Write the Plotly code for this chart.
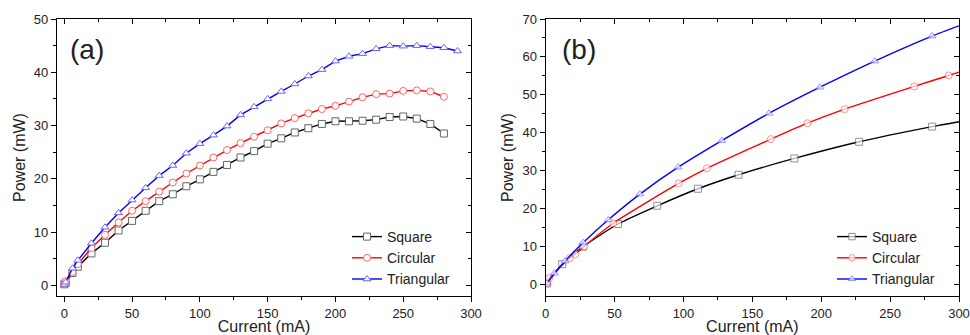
import plotly.graph_objects as go

# ---------------- data: panel (a) ----------------
a_current = [0, 1, 6, 10, 20, 30, 40, 50, 60, 70, 80, 90, 100, 110, 120, 130, 140,
             150, 160, 170, 180, 190, 200, 210, 220, 230, 240, 250, 260, 270, 280]
a_square = [0.2, 0.5, 2.3, 3.5, 6.0, 8.0, 10.3, 12.1, 14.0, 15.8, 17.1, 18.6, 19.9, 21.3,
            22.6, 24.0, 25.2, 26.6, 27.6, 28.7, 29.5, 30.3, 30.8, 30.8, 30.9, 31.1, 31.6,
            31.7, 31.3, 30.3, 28.5]
a_circular = [0.3, 0.8, 2.5, 4.0, 7.0, 9.5, 11.8, 14.0, 15.8, 17.6, 19.3, 21.0, 22.5, 24.0,
              25.4, 26.7, 27.9, 29.1, 30.4, 31.4, 32.3, 33.1, 33.7, 34.5, 35.3, 35.9, 36.0,
              36.5, 36.6, 36.4, 35.4]
a_tri_current = a_current + [290]
a_triangular = [0.2, 0.6, 3.2, 4.7, 7.9, 10.9, 13.6, 16.0, 18.3, 20.6, 22.5, 24.8, 26.6,
                28.2, 29.9, 32.0, 33.5, 35.0, 36.4, 37.8, 39.3, 40.5, 42.1, 43.0, 43.5,
                44.4, 45.0, 44.9, 45.0, 44.8, 44.6, 44.0]

# ---------------- data: panel (b) ----------------
# last point of each series is the curve end (no marker drawn there)
b_sq_current = [1, 12, 27, 52.5, 81, 110.5, 140, 180.5, 227.5, 280.5, 300]
b_square = [0.2, 5.3, 9.9, 15.9, 20.7, 25.2, 28.9, 33.2, 37.6, 41.6, 42.9]
b_ci_current = [1, 2.5, 17.5, 21.5, 28, 49, 96.5, 117, 163.5, 190, 217, 267.5, 292.5, 300]
b_circular = [0.3, 1.6, 6.9, 7.9, 10.0, 16.1, 26.6, 30.6, 38.3, 42.5, 46.2, 52.2, 55.1, 56.0]
b_tr_current = [1, 6.3, 14, 27.3, 45.4, 68.4, 96.2, 127.8, 162.1, 199.1, 238.8, 280.4, 300]
b_triangular = [0.3, 2.9, 6.1, 11.0, 17.0, 23.8, 30.9, 37.9, 45.1, 52.0, 58.9, 65.5, 68.2]

series_names = ["Square", "Circular", "Triangular"]
line_colors = ["#000000", "#ff0000", "#0000ff"]
marker_colors = ["#666666", "#ff6666", "#6666ff"]
symbols = ["square", "circle", "triangle-up"]

W, H = 970, 335
FONT = "Liberation Sans, Arial, sans-serif"


def px_x(p):
    return p / W


def px_y(p):
    return 1 - p / H


fig = go.Figure()

a_sets = [(a_current, a_square), (a_current, a_circular), (a_tri_current, a_triangular)]
for i, (xs, ys) in enumerate(a_sets):
    fig.add_trace(go.Scatter(
        x=xs, y=ys, mode="lines+markers", name=series_names[i],
        line=dict(color=line_colors[i], width=1.4),
        marker=dict(symbol=symbols[i], size=7, color="white",
                    line=dict(color=marker_colors[i], width=1)),
        xaxis="x", yaxis="y", legend="legend",
    ))

b_sets = [(b_sq_current, b_square), (b_ci_current, b_circular), (b_tr_current, b_triangular)]
for i, (xs, ys) in enumerate(b_sets):
    sizes = [7] * (len(xs) - 1) + [0]
    fig.add_trace(go.Scatter(
        x=xs, y=ys, mode="lines+markers", name=series_names[i],
        line=dict(color=line_colors[i], width=1.4, shape="spline", smoothing=0.6),
        marker=dict(symbol=symbols[i], size=sizes, color="white",
                    line=dict(color=marker_colors[i], width=1)),
        xaxis="x2", yaxis="y2", legend="legend2",
    ))

# empty traces that only register the mirrored (inside-tick) axes
for xa, ya in [("x3", "y3"), ("x4", "y4")]:
    fig.add_trace(go.Scatter(x=[None], y=[None], xaxis=xa, yaxis=ya,
                             showlegend=False, hoverinfo="skip", mode="markers"))

ydom = [px_y(296), px_y(19)]
xa_dom = [px_x(57), px_x(471)]
xb_dom = [px_x(545.7), px_x(959)]

tickfont = dict(family=FONT, size=13, color="#222")
titlefont = dict(family=FONT, size=16, color="#222")


def main_axis(rng, dtick, dom, anchor, title, minor_dtick, standoff=None):
    t = dict(text=title, font=titlefont)
    if standoff is not None:
        t["standoff"] = standoff
    return dict(
        domain=dom, range=rng, anchor=anchor, dtick=dtick, tick0=0,
        showline=True, linecolor="black", linewidth=1.3, mirror=True,
        ticks="outside", ticklen=5, tickwidth=1.2, tickcolor="black",
        minor=dict(ticks="outside", ticklen=3, tickwidth=1, tickcolor="black",
                   dtick=minor_dtick, tick0=0),
        showgrid=False, zeroline=False, tickfont=tickfont, automargin=False,
        title=t,
    )


def mirror_axis(rng, dtick, overlay, side, anchor, minor_dtick):
    return dict(
        range=rng, overlaying=overlay, side=side, anchor=anchor, dtick=dtick, tick0=0,
        showline=False, ticks="inside", ticklen=5, tickwidth=1.2, tickcolor="black",
        minor=dict(ticks="inside", ticklen=3, tickwidth=1, tickcolor="black",
                   dtick=minor_dtick, tick0=0),
        showticklabels=False, showgrid=False, zeroline=False, fixedrange=True,
        automargin=False,
    )


xa_range = [-5.4, 300]
ya_range = [-2, 50]
xb_range = [0, 300]
yb_range = [-3.1, 70]

legend_font = dict(family=FONT, size=14, color="#222")

fig.update_layout(
    width=W, height=H,
    margin=dict(l=0, r=0, t=0, b=0),
    paper_bgcolor="white", plot_bgcolor="white",
    font=dict(family=FONT, color="#222"),
    xaxis=main_axis(xa_range, 50, xa_dom, "y", "Current (mA)", 25),
    yaxis=main_axis(ya_range, 10, ydom, "x", "Power (mW)", 5, 4),
    xaxis2=main_axis(xb_range, 50, xb_dom, "y2", "Current (mA)", 25),
    yaxis2=main_axis(yb_range, 10, ydom, "x2", "Power (mW)", 5, 4),
    xaxis3=mirror_axis(xa_range, 50, "x", "top", "y", 25),
    yaxis3=mirror_axis(ya_range, 10, "y", "right", "x", 5),
    xaxis4=mirror_axis(xb_range, 50, "x2", "top", "y2", 25),
    yaxis4=mirror_axis(yb_range, 10, "y2", "right", "x2", 5),
    legend=dict(x=px_x(347), y=px_y(221), xanchor="left", yanchor="top",
                bgcolor="rgba(0,0,0,0)", font=legend_font, tracegroupgap=0),
    legend2=dict(x=px_x(832), y=px_y(221), xanchor="left", yanchor="top",
                 bgcolor="rgba(0,0,0,0)", font=legend_font, tracegroupgap=0),
    annotations=[
        dict(text="(a)", x=px_x(68), y=px_y(49), xref="paper", yref="paper",
             xanchor="left", yanchor="middle", showarrow=False,
             font=dict(family=FONT, size=28, color="#222")),
        dict(text="(b)", x=px_x(560), y=px_y(49), xref="paper", yref="paper",
             xanchor="left", yanchor="middle", showarrow=False,
             font=dict(family=FONT, size=28, color="#222")),
    ],
    showlegend=True,
)

fig.write_html("out.html", post_script="document.body.style.margin='0';",
               config={"displayModeBar": False})
